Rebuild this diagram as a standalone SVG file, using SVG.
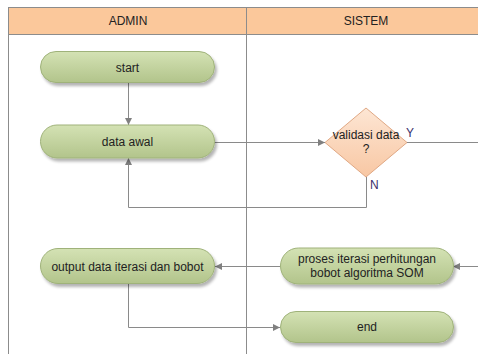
<svg xmlns="http://www.w3.org/2000/svg" width="478" height="354" viewBox="0 0 478 354">
  <defs>
    <linearGradient id="pill" x1="0" y1="0" x2="0" y2="1">
      <stop offset="0" stop-color="#d4e2b4"/>
      <stop offset="1" stop-color="#b2c48b"/>
    </linearGradient>
    <linearGradient id="diamond" x1="0" y1="0" x2="0" y2="1">
      <stop offset="0" stop-color="#fde6d4"/>
      <stop offset="1" stop-color="#f8c7a3"/>
    </linearGradient>
    <filter id="shadow" x="-10%" y="-20%" width="130%" height="160%">
      <feGaussianBlur in="SourceAlpha" stdDeviation="1.5"/>
      <feOffset dx="2" dy="3" result="b"/>
      <feComponentTransfer><feFuncA type="linear" slope="0.3"/></feComponentTransfer>
      <feMerge><feMergeNode/><feMergeNode in="SourceGraphic"/></feMerge>
    </filter>
    <marker id="arrow" markerWidth="8" markerHeight="8" refX="7" refY="4" orient="auto" markerUnits="userSpaceOnUse">
      <path d="M0,0.5 L7,4 L0,7.5 Z" fill="#808080"/>
    </marker>
  </defs>
  <style>
    text { font-family: "Liberation Sans", Arial, sans-serif; font-size: 12px; fill: #222; text-anchor: middle; }
    .lane { fill: none; stroke: #8c8c8c; stroke-width: 1; }
    .head { fill: #fbc89b; stroke: #8c8c8c; stroke-width: 1; }
    .pill { fill: url(#pill); stroke: #9fb27a; stroke-width: 1; filter: url(#shadow); }
    .dia { fill: url(#diamond); stroke: #e0a884; stroke-width: 1; }
    .conn { fill: none; stroke: #8a8a8a; stroke-width: 1; }
    .lbl { text-anchor: start; fill: #3a2f6b; font-size: 12px; }
  </style>

  <!-- swimlanes -->
  <g id="lanes">
    <rect class="head" x="8.5" y="7.5" width="480" height="27"/>
    <line class="lane" x1="8.5" y1="34.5" x2="8.5" y2="354"/>
    <line class="lane" x1="246.5" y1="7.5" x2="246.5" y2="354"/>
    <text x="128" y="25">ADMIN</text>
    <text x="366" y="25">SISTEM</text>
  </g>

  <!-- connectors -->
  <g id="connectors">
    <line class="conn" x1="128.5" y1="82" x2="128.5" y2="125" marker-end="url(#arrow)"/>
    <line class="conn" x1="214" y1="142.5" x2="325" y2="142.5" marker-end="url(#arrow)"/>
    <line class="conn" x1="407" y1="142.5" x2="478" y2="142.5"/>
    <polyline class="conn" points="366.5,177 366.5,207.5 128.5,207.5 128.5,158" marker-end="url(#arrow)"/>
    <line class="conn" x1="478" y1="266.5" x2="453" y2="266.5" marker-end="url(#arrow)"/>
    <line class="conn" x1="280" y1="266.5" x2="215" y2="266.5" marker-end="url(#arrow)"/>
    <polyline class="conn" points="128.5,283 128.5,327.5 280,327.5" marker-end="url(#arrow)"/>
    <text class="lbl" x="406" y="137">Y</text>
    <text class="lbl" x="370" y="189">N</text>
  </g>

  <g id="start">
    <rect class="pill" x="40.5" y="51.5" width="174" height="31" rx="15.5"/>
    <text x="127.5" y="71.5">start</text>
  </g>

  <g id="data-awal">
    <rect class="pill" x="40.5" y="125" width="174" height="33" rx="16.5"/>
    <text x="127.5" y="146">data awal</text>
  </g>

  <g id="validasi">
    <polygon class="dia" points="366,108 407,142.5 366,177 325,142.5"/>
    <text x="366" y="139">validasi data</text>
    <text x="366" y="153">?</text>
  </g>

  <g id="output">
    <rect class="pill" x="40.5" y="248.5" width="174" height="35" rx="17.5"/>
    <text x="127.5" y="270.5">output data iterasi dan bobot</text>
  </g>

  <g id="proses">
    <rect class="pill" x="280.5" y="248" width="173" height="36" rx="18"/>
    <text x="367" y="263">proses iterasi perhitungan</text>
    <text x="367" y="277">bobot algoritma SOM</text>
  </g>

  <g id="end">
    <rect class="pill" x="280.5" y="311.5" width="173" height="31" rx="15.5"/>
    <text x="367" y="331">end</text>
  </g>
</svg>
